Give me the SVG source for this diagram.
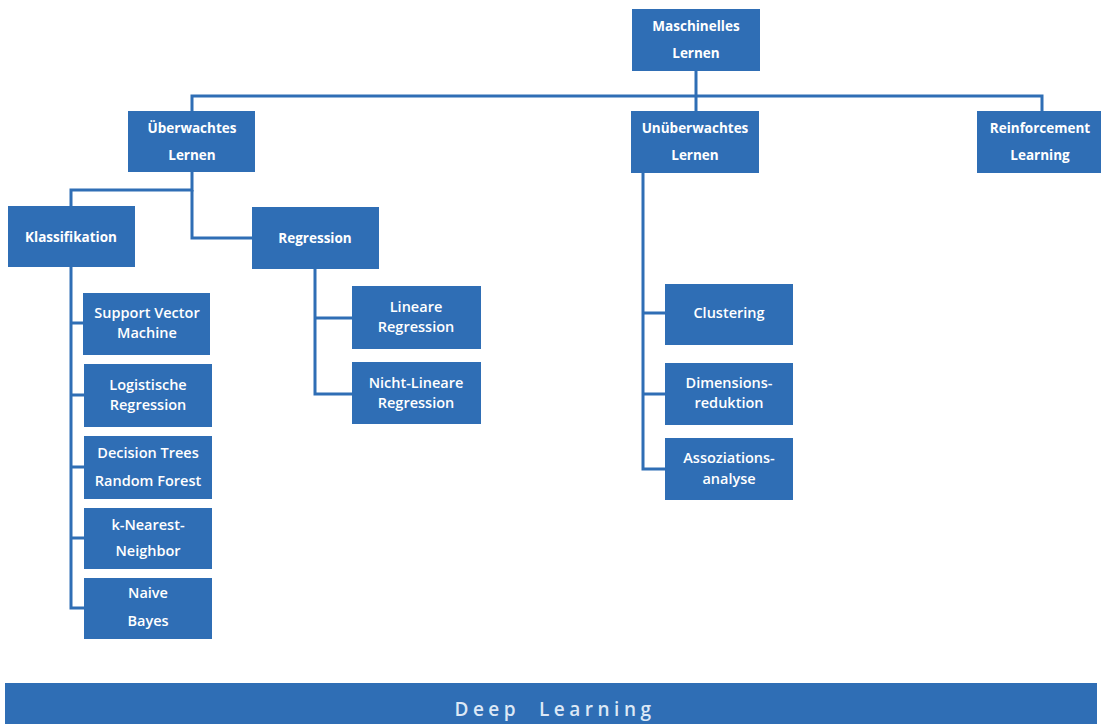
<svg xmlns="http://www.w3.org/2000/svg" width="1103" height="726" viewBox="0 0 1103 726">
  <style>
    .box { fill: #2f6eb5; }
    .wire { fill: none; stroke: #2f6eb5; stroke-width: 3; }
    .t-head { fill: #ffffff; font-family: "Open Sans", "Liberation Sans", sans-serif; font-size: 13.5px; font-weight: 700; text-anchor: middle; }
    .t-leaf { fill: #ffffff; font-family: "Open Sans", "Liberation Sans", sans-serif; font-size: 14.5px; font-weight: 600; text-anchor: middle; }
    .t-deep { fill: #dce8f6; font-family: "Open Sans", "Liberation Sans", sans-serif; font-size: 19px; font-weight: 600; letter-spacing: 4.5px; text-anchor: middle; }
  </style>

  <rect width="1103" height="726" fill="#ffffff"/>

  <!-- connectors -->
  <g id="connectors">
    <path class="wire" d="M696 71 V111"/>
    <path class="wire" d="M192 111 V96 H1042 V111"/>
    <path class="wire" d="M71 206 V190 H192 V172"/>
    <path class="wire" d="M192 190 V238 H252"/>
    <path class="wire" d="M71 267 V608 H84"/>
    <path class="wire" d="M71 323 H84 M71 395 H84 M71 467 H84 M71 538 H84"/>
    <path class="wire" d="M315 269 V394 H352 M315 318 H352"/>
    <path class="wire" d="M643 173 V469 H665 M643 313 H665 M643 394 H665"/>
  </g>

  <!-- top level -->
  <g id="node-ml">
    <rect class="box" x="632" y="9" width="128" height="62"/>
    <text class="t-head" x="696" y="31">Maschinelles</text>
    <text class="t-head" x="696" y="58">Lernen</text>
  </g>
  <g id="node-supervised">
    <rect class="box" x="128" y="111" width="127" height="61"/>
    <text class="t-head" x="192" y="133">Überwachtes</text>
    <text class="t-head" x="192" y="160">Lernen</text>
  </g>
  <g id="node-unsupervised">
    <rect class="box" x="631" y="111" width="128" height="62"/>
    <text class="t-head" x="695" y="133">Unüberwachtes</text>
    <text class="t-head" x="695" y="160">Lernen</text>
  </g>
  <g id="node-reinforcement">
    <rect class="box" x="977" y="111" width="124" height="62"/>
    <text class="t-head" x="1040" y="133">Reinforcement</text>
    <text class="t-head" x="1040" y="160">Learning</text>
  </g>

  <!-- supervised branch -->
  <g id="node-classification">
    <rect class="box" x="8" y="206" width="127" height="61"/>
    <text class="t-head" x="71" y="242">Klassifikation</text>
  </g>
  <g id="node-regression">
    <rect class="box" x="252" y="207" width="127" height="62"/>
    <text class="t-head" x="315" y="243">Regression</text>
  </g>

  <g id="node-svm">
    <rect class="box" x="83" y="293" width="127" height="62"/>
    <text class="t-leaf" x="147" y="318">Support Vector</text>
    <text class="t-leaf" x="147" y="338">Machine</text>
  </g>
  <g id="node-logreg">
    <rect class="box" x="84" y="364" width="128" height="63"/>
    <text class="t-leaf" x="148" y="390">Logistische</text>
    <text class="t-leaf" x="148" y="410">Regression</text>
  </g>
  <g id="node-trees">
    <rect class="box" x="84" y="436" width="128" height="63"/>
    <text class="t-leaf" x="148" y="458">Decision Trees</text>
    <text class="t-leaf" x="148" y="486">Random Forest</text>
  </g>
  <g id="node-knn">
    <rect class="box" x="84" y="508" width="128" height="61"/>
    <text class="t-leaf" x="148" y="530">k-Nearest-</text>
    <text class="t-leaf" x="148" y="556">Neighbor</text>
  </g>
  <g id="node-bayes">
    <rect class="box" x="84" y="578" width="128" height="61"/>
    <text class="t-leaf" x="148" y="598">Naive</text>
    <text class="t-leaf" x="148" y="626">Bayes</text>
  </g>

  <g id="node-linreg">
    <rect class="box" x="352" y="286" width="129" height="63"/>
    <text class="t-leaf" x="416" y="312">Lineare</text>
    <text class="t-leaf" x="416" y="332">Regression</text>
  </g>
  <g id="node-nonlinreg">
    <rect class="box" x="352" y="362" width="129" height="62"/>
    <text class="t-leaf" x="416" y="388">Nicht-Lineare</text>
    <text class="t-leaf" x="416" y="408">Regression</text>
  </g>

  <!-- unsupervised branch -->
  <g id="node-clustering">
    <rect class="box" x="665" y="284" width="128" height="61"/>
    <text class="t-leaf" x="729" y="318">Clustering</text>
  </g>
  <g id="node-dimred">
    <rect class="box" x="665" y="363" width="128" height="62"/>
    <text class="t-leaf" x="729" y="388">Dimensions-</text>
    <text class="t-leaf" x="729" y="408">reduktion</text>
  </g>
  <g id="node-assoc">
    <rect class="box" x="665" y="438" width="128" height="62"/>
    <text class="t-leaf" x="729" y="463">Assoziations-</text>
    <text class="t-leaf" x="729" y="484">analyse</text>
  </g>

  <!-- deep learning band -->
  <g id="node-deep-learning">
    <rect class="box" x="5" y="683" width="1092" height="41"/>
    <text class="t-deep" x="555" y="716" xml:space="preserve">Deep  Learning</text>
  </g>
</svg>
